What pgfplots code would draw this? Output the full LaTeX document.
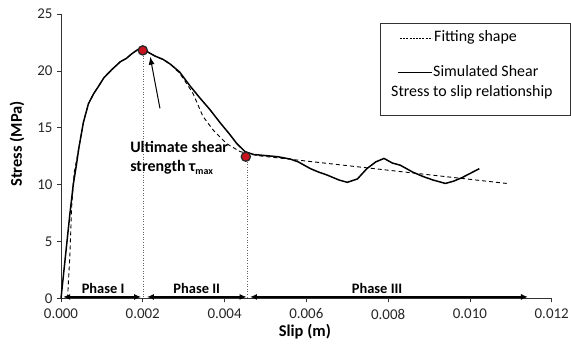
\documentclass[border=0pt]{standalone}
\usepackage{pgfplots}
\pgfplotsset{compat=1.18}
\usepackage{fontspec}
\setmainfont{Carlito}
\usetikzlibrary{arrows.meta}
\definecolor{dotred}{RGB}{200,20,30}
\begin{document}
\begin{tikzpicture}[font=\fontsize{16}{19}\selectfont]
\path[use as bounding box] (-61bp,-55.7bp) rectangle (510bp,298.3bp);
\begin{axis}[
  scale only axis,
  width=490.7bp, height=284.3bp,
  xmin=0, xmax=0.012, ymin=0, ymax=25,
  axis x line=bottom, axis y line=left,
  axis line style={-, line width=0.8pt, black!80},
  xtick={0,0.002,...,0.012},
  ytick={0,5,...,25},
  scaled x ticks=false,
  /pgf/number format/assume math mode=true,
  ticklabel style={font=\fontsize{15}{18}\selectfont, black!85},
  xticklabel style={yshift=-3bp, /pgf/number format/.cd, fixed, fixed zerofill, precision=3},
  yticklabel style={xshift=-1bp},
  tick align=outside,
  major tick length=4bp,
  tick style={black!80, line width=0.6pt},
  xlabel={Slip (m)},
  ylabel={Stress (MPa)},
  label style={font=\fontsize{16.5}{19}\selectfont\bfseries},
  xlabel style={at={(axis description cs:0.497,-0.1185)}, anchor=center},
  ylabel style={at={(axis description cs:-0.0897,0.543)}, anchor=center},
  clip=false,
]
% fitting shape
\addplot[black, line width=0.9pt, dash pattern=on 4bp off 3bp] coordinates {
(0.00016,0) (0.00022,4) (0.00026,8) (0.00032,11) (0.00044,13.3)
(0.00055,15.5) (0.00067,17.1) (0.00080,18.0) (0.00091,18.6) (0.00105,19.4)
(0.00124,20.1) (0.00145,20.8) (0.00160,21.1) (0.00173,21.5) (0.00189,21.9)
(0.00195,21.8) (0.0021,21.7) (0.0023,21.3) (0.0025,21.0) (0.00267,20.6)
(0.0029,19.8) (0.00307,18.9) (0.00323,18.0) (0.00347,16.0) (0.00372,14.8)
(0.00405,13.6) (0.00438,12.9) (0.0048,12.55) (0.0109,10.1)
};
% simulated
\addplot[black, line width=1.5pt, line join=round] coordinates {
(0,0) (0.00022,7.5) (0.00030,10) (0.00038,11.8) (0.00044,13.3)
(0.00055,15.5) (0.00067,17.1) (0.00080,18.0) (0.00091,18.6) (0.00105,19.4)
(0.00124,20.1) (0.00145,20.8) (0.00160,21.1) (0.00173,21.5) (0.00189,21.9)
(0.00195,21.8) (0.0021,21.7) (0.0023,21.3) (0.0025,21.0) (0.00267,20.6)
(0.0029,19.9) (0.00315,18.7) (0.0034,17.6) (0.00364,16.6) (0.0039,15.4)
(0.00413,14.4) (0.0043,13.6) (0.0045,12.9) (0.0047,12.65) (0.0050,12.55)
(0.0053,12.45) (0.0056,12.25) (0.0058,12.0) (0.0061,11.4) (0.0063,11.1)
(0.0065,10.85) (0.0068,10.4) (0.0070,10.2) (0.00725,10.5) (0.00748,11.4)
(0.0077,12.0) (0.0079,12.3) (0.0081,11.9) (0.0083,11.7) (0.0086,11.1)
(0.00886,10.7) (0.0091,10.4) (0.0094,10.1) (0.0096,10.3) (0.0098,10.6)
(0.01023,11.4)
};
% dotted guides
\draw[black!60, dotted, line width=0.6pt] (axis cs:0.00201,21.8) -- (axis cs:0.00201,0);
\draw[black!60, dotted, line width=0.6pt] (axis cs:0.00455,12.45) -- (axis cs:0.00455,0);
% red points
\addplot[only marks, mark=*, mark size=4.6bp, mark options={fill=dotred, draw=black!85, line width=1.3pt}] coordinates {(0.002,21.8) (0.00452,12.45)};
% phase arrows
\draw[{Latex[length=7bp,width=6bp]}-{Latex[length=7bp,width=6bp]}, line width=1.4pt] (axis cs:0.00005,0.12) -- (axis cs:0.00196,0.12);
\draw[{Latex[length=7bp,width=6bp]}-{Latex[length=7bp,width=6bp]}, line width=1.4pt] (axis cs:0.0021,0.12) -- (axis cs:0.00454,0.12);
\draw[{Latex[length=7bp,width=6bp]}-{Latex[length=7bp,width=6bp]}, line width=1.4pt] (axis cs:0.00462,0.12) -- (axis cs:0.01142,0.12);
\node[font=\fontsize{14.5}{17}\selectfont\bfseries] at (axis cs:0.00103,0.85) {Phase I};
\node[font=\fontsize{14.5}{17}\selectfont\bfseries] at (axis cs:0.00332,0.85) {Phase II};
\node[font=\fontsize{14.5}{17}\selectfont\bfseries] at (axis cs:0.00773,0.85) {Phase III};
% annotation
\node[anchor=west, font=\fontsize{16}{19}\selectfont\bfseries, inner sep=0pt] at (axis cs:0.00169,13.3) {Ultimate shear};
\node[anchor=west, font=\fontsize{16}{19}\selectfont\bfseries, inner sep=0pt] at (axis cs:0.00169,11.5) {strength τ\raisebox{-0.35ex}{\fontsize{10}{11}\selectfont max}};
\draw[-{Latex[length=8bp,width=6bp]}, line width=1pt] (axis cs:0.00242,16.7) -- (axis cs:0.00218,21.25);
\end{axis}
% legend box
\draw[black!80, line width=0.7pt] (319bp,275.3bp) rectangle (509bp,183.3bp);
\draw[black, dash pattern=on 2bp off 1.2bp, line width=0.8pt] (339bp,260.3bp) -- (371bp,260.3bp);
\node[anchor=west, inner sep=0pt] at (373bp,261.3bp) {Fitting shape};
\draw[black, line width=0.8pt] (337bp,226.3bp) -- (371bp,226.3bp);
\node[anchor=west, inner sep=0pt] at (372bp,227.3bp) {Simulated Shear};
\node[anchor=west, inner sep=0pt] at (330bp,206.3bp) {Stress to slip relationship};
\end{tikzpicture}
\end{document}
